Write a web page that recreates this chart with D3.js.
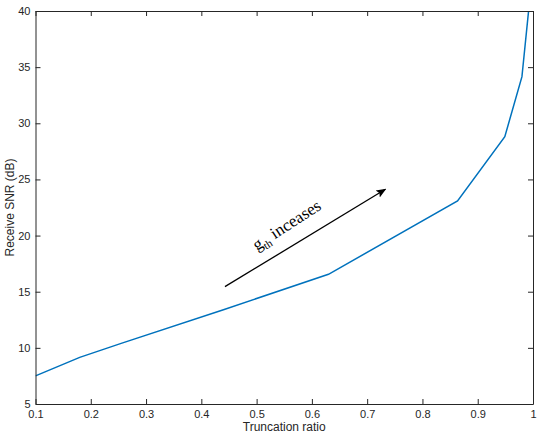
<!DOCTYPE html>
<html><head><meta charset="utf-8">
<script src="https://cdn.jsdelivr.net/npm/d3@7"></script>
<style>body{margin:0;background:#fff}svg{display:block}</style>
</head><body>
<script>
const ratio = [0.1, 0.18, 0.255, 0.44, 0.63, 0.8635, 0.949, 0.98, 0.992];
const snr   = [7.5, 9.15, 10.4, 13.4, 16.55, 23.08, 28.8, 34.15, 40];
const xTicks = [0.1,0.2,0.3,0.4,0.5,0.6,0.7,0.8,0.9,1];
const yTicks = [5,10,15,20,25,30,35,40];
const arrowFrom = [0.4427, 15.45];
const arrowTo = [0.733, 24.12];

const W = 545, H = 437;
const m = {l:35.5, r:533, t:11, b:404};
const svg = d3.select("body").append("svg").attr("width",W).attr("height",H);
const x = d3.scaleLinear().domain([0.1,1]).range([m.l,m.r]);
const y = d3.scaleLinear().domain([5,40]).range([m.b,m.t]);
const ax = "#262626";
const fmt = d => d===1 ? "1" : d3.format(".1f")(d);

const defs = svg.append("defs");
defs.append("clipPath").attr("id","clip").append("rect")
  .attr("x",m.l).attr("y",m.t).attr("width",m.r-m.l).attr("height",m.b-m.t);
defs.append("marker").attr("id","ah").attr("viewBox","0 0 10 10")
  .attr("refX",9).attr("refY",5).attr("markerWidth",10).attr("markerHeight",10)
  .attr("markerUnits","userSpaceOnUse").attr("orient","auto")
  .append("path").attr("d","M0,1 L10,5 L0,9 L2,5 Z").attr("fill","#000");

// data line
svg.append("path").datum(ratio.map((r,i)=>[r,snr[i]]))
  .attr("clip-path","url(#clip)")
  .attr("fill","none").attr("stroke","#0072BD").attr("stroke-width",1.5)
  .attr("d", d3.line().x(d=>x(d[0])).y(d=>y(d[1])));

// axes
const style = g => {
  g.select(".domain").attr("stroke",ax);
  g.selectAll(".tick line").attr("stroke",ax);
  g.selectAll("text").attr("fill",ax).style("font-family","'Liberation Sans', Arial, sans-serif").style("font-size","11px");
};
svg.append("g").attr("transform",`translate(0,${m.b})`)
  .call(d3.axisBottom(x).tickValues(xTicks).tickFormat(fmt).tickSizeInner(-5).tickSizeOuter(0).tickPadding(6))
  .call(style);
svg.append("g").attr("transform",`translate(0,${m.t})`)
  .call(d3.axisTop(x).tickValues(xTicks).tickFormat("").tickSizeInner(-5).tickSizeOuter(0))
  .call(style);
svg.append("g").attr("transform",`translate(${m.l},0)`)
  .call(d3.axisLeft(y).tickValues(yTicks).tickSizeInner(-5).tickSizeOuter(0).tickPadding(5))
  .call(style);
svg.append("g").attr("transform",`translate(${m.r},0)`)
  .call(d3.axisRight(y).tickValues(yTicks).tickFormat("").tickSizeInner(-5).tickSizeOuter(0))
  .call(style);

// labels
svg.append("text").attr("x",(m.l+m.r)/2).attr("y",431).attr("text-anchor","middle")
  .style("font-family","'Liberation Sans', Arial, sans-serif").style("font-size","12px").attr("fill",ax)
  .text("Truncation ratio");
svg.append("text").attr("transform",`translate(14,${(m.t+m.b)/2}) rotate(-90)`).attr("text-anchor","middle")
  .style("font-family","'Liberation Sans', Arial, sans-serif").style("font-size","12px").attr("fill",ax)
  .text("Receive SNR (dB)");

// annotation arrow
svg.append("line").attr("x1",x(arrowFrom[0])).attr("y1",y(arrowFrom[1]))
  .attr("x2",x(arrowTo[0])).attr("y2",y(arrowTo[1]))
  .attr("stroke","#000").attr("stroke-width",1.3).attr("marker-end","url(#ah)");

const t = svg.append("text").attr("transform","translate(257,251) rotate(-33)")
  .style("font-family","'Liberation Serif', 'Times New Roman', serif").style("font-size","17px").attr("fill","#000");
t.append("tspan").text("g");
t.append("tspan").attr("dy",4).style("font-size","11px").text("th");
t.append("tspan").attr("dy",-4).text(" inceases");
</script>
</body></html>
